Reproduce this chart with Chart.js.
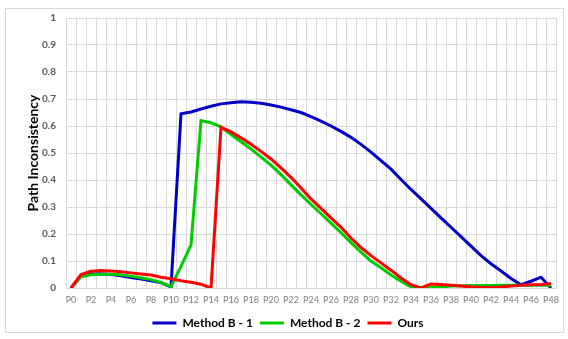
<!DOCTYPE html>
<html>
<head>
<meta charset="utf-8">
<script src="https://cdn.jsdelivr.net/npm/chart.js@4/dist/chart.umd.min.js"></script>
<style>
    body { margin: 0; background: #fff; }
    #wrap { position: relative; width: 568px; height: 339px; }
    #frame { position: absolute; left: 5px; top: 8px; width: 557px; height: 323px; border: 1px solid #d9d9d9; pointer-events: none; }
</style>
</head>
<body>
<div id="wrap">
    <canvas id="pathChart"></canvas>
    <div id="frame"></div>
</div>
<script>
// categories P0..P48
const labels = ['P0','P1','P2','P3','P4','P5','P6','P7','P8','P9','P10','P11','P12','P13','P14','P15','P16',
    'P17','P18','P19','P20','P21','P22','P23','P24','P25','P26','P27','P28','P29','P30','P31','P32','P33',
    'P34','P35','P36','P37','P38','P39','P40','P41','P42','P43','P44','P45','P46','P47','P48'];

const methodB1 = [0, 0.045, 0.052, 0.053, 0.05, 0.045, 0.039, 0.033, 0.027, 0.02, 0.004,
    0.645, 0.652, 0.663, 0.673, 0.682, 0.686, 0.69, 0.688, 0.684, 0.678,
    0.67, 0.66, 0.65, 0.635, 0.618, 0.6, 0.58, 0.558, 0.532, 0.503,
    0.472, 0.44, 0.402, 0.365, 0.33, 0.295, 0.26, 0.225, 0.19, 0.155,
    0.12, 0.09, 0.063, 0.035, 0.012, 0.025, 0.04, 0];

const methodB2 = [0, 0.042, 0.049, 0.051, 0.051, 0.049, 0.044, 0.038, 0.031, 0.021, 0.005,
    0.08, 0.16, 0.62, 0.612, 0.597, 0.568, 0.542, 0.515, 0.485, 0.455,
    0.42, 0.382, 0.345, 0.31, 0.275, 0.24, 0.205, 0.168, 0.133, 0.1,
    0.075, 0.048, 0.025, 0.004, 0, 0.002, 0.004, 0.007, 0.008, 0.009,
    0.009, 0.009, 0.01, 0.01, 0.01, 0.01, 0.01, 0.01];

const ours = [0, 0.05, 0.062, 0.065, 0.063, 0.06, 0.056, 0.052, 0.048, 0.04, 0.034,
    0.027, 0.021, 0.014, 0, 0.595, 0.578, 0.556, 0.532, 0.506, 0.478,
    0.445, 0.41, 0.37, 0.33, 0.295, 0.26, 0.225, 0.185, 0.15, 0.12,
    0.093, 0.066, 0.037, 0.012, 0, 0.015, 0.013, 0.01, 0.007, 0.004,
    0.002, 0.002, 0.004, 0.007, 0.01, 0.012, 0.013, 0.017];

const yTicks = [0, 0.1, 0.2, 0.3, 0.4, 0.5, 0.6, 0.7, 0.8, 0.9, 1];

const FONT = 'Lato, "Open Sans", sans-serif';

function lineSet(label, data, color, order) {
    return {
        label: label,
        data: data,
        borderColor: color,
        backgroundColor: color,
        borderWidth: 3,
        pointRadius: 0,
        tension: 0,
        order: order
    };
}

new Chart(document.getElementById('pathChart'), {
    type: 'line',
    data: {
        labels: labels,
        datasets: [
            lineSet('Method B - 1', methodB1, '#0000c8', 3),
            lineSet('Method B - 2', methodB2, '#00cc00', 2),
            lineSet('Ours', ours, '#ff0000', 1)
        ]
    },
    options: {
        responsive: true,
        maintainAspectRatio: false,
        animation: false,
        layout: { padding: { top: 18, right: 12, bottom: 0, left: 20 } },
        plugins: {
            tooltip: { enabled: false },
            legend: {
                position: 'bottom',
                labels: {
                    usePointStyle: true,
                    pointStyle: 'line',
                    pointStyleWidth: 24,
                    boxHeight: 12,
                    padding: 7,
                    color: '#000',
                    font: { family: FONT, size: 12, weight: 'bold' },
                    sort: (a, b) => a.datasetIndex - b.datasetIndex
                }
            }
        },
        scales: {
            x: {
                offset: true,
                grid: { color: '#d9d9d9', offset: true, drawTicks: false },
                border: { color: '#d9d9d9' },
                ticks: {
                    autoSkip: false,
                    maxRotation: 0,
                    padding: 7,
                    color: '#808080',
                    font: { family: FONT, size: 9 },
                    callback: function(value, index) {
                        return index % 2 === 0 ? labels[index] : '';
                    }
                },
                afterFit: function(scale) { scale.height = 22; }
            },
            y: {
                min: 0,
                max: 1,
                afterBuildTicks: function(scale) {
                    scale.ticks = yTicks.map(v => ({ value: v }));
                },
                grid: { color: '#d9d9d9', drawTicks: false },
                border: { display: false },
                ticks: {
                    padding: 10,
                    color: '#595959',
                    font: { family: FONT, size: 10, weight: 'bold' },
                    callback: v => String(Math.round(v * 10) / 10)
                },
                title: {
                    display: true,
                    text: 'Path Inconsistency',
                    color: '#000',
                    font: { family: FONT, size: 14, weight: 'bold' },
                    padding: { top: 5, bottom: 0 }
                },
                afterFit: function(scale) { scale.width = 46; }
            }
        }
    }
});
</script>
</body>
</html>
